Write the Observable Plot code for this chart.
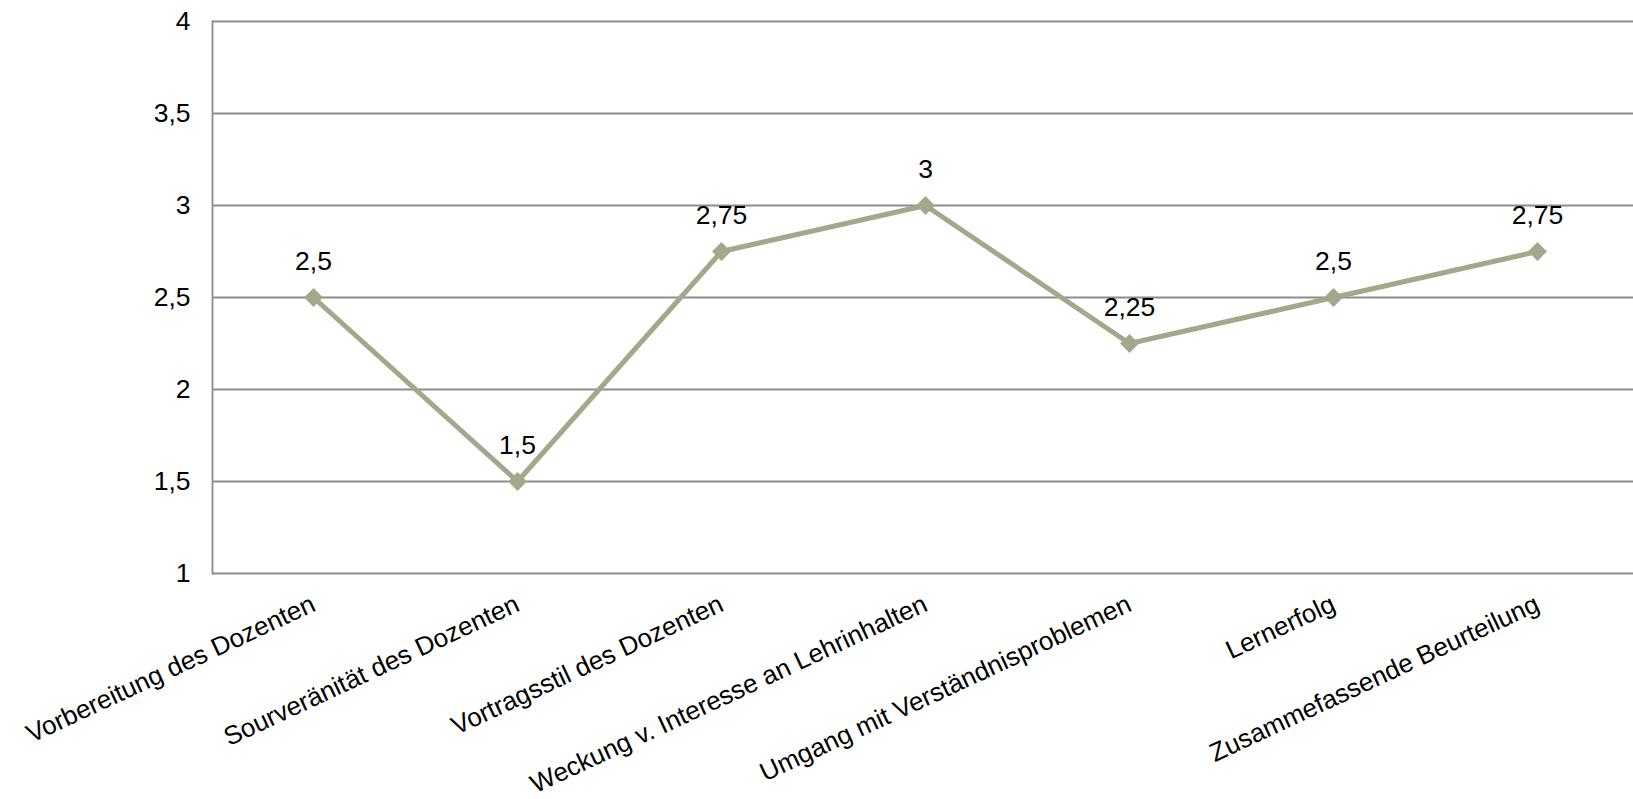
<!DOCTYPE html>
<html>
<head>
<meta charset="utf-8">
<script src="https://cdn.jsdelivr.net/npm/d3@7"></script>
<script src="https://cdn.jsdelivr.net/npm/@observablehq/plot@0.6"></script>
<style>
  html, body { margin: 0; padding: 0; background: #fff; }
  #chart svg { display: block; }
</style>
</head>
<body>
<div id="chart"></div>
<script>
const categories = [
  "Vorbereitung des Dozenten",
  "Sourveränität des Dozenten",
  "Vortragsstil des Dozenten",
  "Weckung v. Interesse an Lehrinhalten",
  "Umgang mit Verständnisproblemen",
  "Lernerfolg",
  "Zusammefassende Beurteilung"
];
const values = [2.5, 1.5, 2.75, 3, 2.25, 2.5, 2.75];
const yTicks = [1, 1.5, 2, 2.5, 3, 3.5, 4];

const data = categories.map((c, i) => ({ category: c, value: values[i] }));
const fmt = d => String(d).replace(".", ",");

const lineColor = "#A6A68C";
const gridColor = "#8C8C8C";

const chart = Plot.plot({
  width: 1633,
  height: 799,
  marginTop: 21,
  marginBottom: 226,
  marginLeft: 212,
  marginRight: 0,
  style: { fontFamily: "'Liberation Sans', Arial, sans-serif", fontSize: "26.5px", color: "#000", background: "#fff" },
  x: { type: "point", domain: categories, range: [313, 1537], padding: 0 },
  y: { domain: [1, 4] },
  marks: [
    Plot.gridY(yTicks, { stroke: gridColor, strokeOpacity: 1, strokeWidth: 1.8 }),
    Plot.frame({ anchor: "left", stroke: gridColor, strokeWidth: 1.8 }),
    Plot.axisY(yTicks, { tickSize: 0, tickPadding: 22, tickFormat: fmt, fontSize: 26.5, label: null }),
    Plot.axisX({ tickSize: 0, tickRotate: -25, tickPadding: 29, fontSize: 26, label: null }),
    Plot.line(data, { x: "category", y: "value", stroke: lineColor, strokeWidth: 5 }),
    Plot.dot(data, { x: "category", y: "value", symbol: "diamond2", r: 8.5, fill: lineColor, stroke: "none" }),
    Plot.text(data, { x: "category", y: "value", text: d => fmt(d.value), dy: -36, fontSize: 26.5, fill: "#000" })
  ]
});
document.getElementById("chart").appendChild(chart);
</script>
</body>
</html>
